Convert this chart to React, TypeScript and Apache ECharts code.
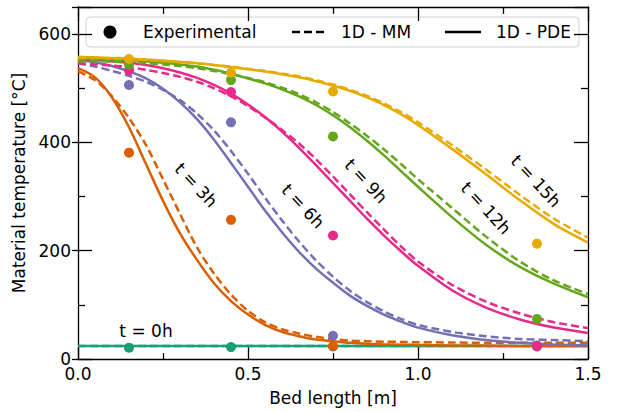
import React, { useEffect, useRef } from "react";
import * as echarts from "echarts";

// Bed length grid (m) on which the model curves are read
const xGrid = [0, 0.05, 0.1, 0.15, 0.2, 0.25, 0.3, 0.35, 0.4, 0.45, 0.5, 0.55, 0.6, 0.65, 0.7, 0.75, 0.8, 0.85, 0.9, 0.95, 1.0, 1.1, 1.2, 1.3, 1.4, 1.5];

// 1D - PDE (solid) curves, °C
const pde0h = [24, 24, 24, 24, 24, 24, 24, 24, 24, 24, 24, 24, 24, 24, 24, 24, 24, 24, 24, 24, 24, 24, 24, 24, 24, 24];
const pde3h = [537, 520, 483, 428, 360, 292, 232, 183, 140, 107, 82, 63, 50, 42, 36, 33, 30, 28, 27, 26.5, 26, 25, 25, 24, 24, 24];
const pde6h = [552, 548, 541, 531, 518, 499, 474, 443, 405, 362, 318, 274, 234, 198, 167, 141, 117, 98, 82, 69, 58, 44, 35, 30, 27, 25];
const pde9h = [553, 552, 550, 547, 543, 537, 529, 519, 506, 490, 470, 447, 420, 390, 358, 325, 292, 259, 228, 199, 172, 127, 95, 73, 58, 48];
const pde12h = [555, 554, 553, 552, 550, 547, 544, 540, 534, 527, 518, 509, 498, 485, 469, 450, 428, 403, 376, 347, 318, 262, 211, 170, 139, 114];
const pde15h = [558, 557, 556, 555, 553, 551, 549, 546, 543, 539, 535, 531, 526, 520, 513, 505, 495, 483, 469, 452, 432, 388, 341, 293, 249, 215];

// 1D - MM (dashed) curves, °C
const mm0h = [24, 24, 24, 24, 24, 24, 24, 24, 24, 24, 24, 24, 24, 24, 24, 24, 24, 24, 24, 24, 24, 24, 24, 24, 24, 24];
const mm3h = [531, 515, 485, 445, 395, 332, 268, 206, 158, 119, 89, 68, 55, 47, 41, 37, 34, 33, 32, 31.5, 31, 30.5, 30, 30, 30, 30];
const mm6h = [546, 540, 532, 523, 512, 497, 478, 453, 422, 384, 342, 298, 256, 217, 182, 152, 126, 105, 88, 74, 63, 50, 42, 37, 35, 33];
const mm9h = [546, 544, 542, 539, 534, 528, 521, 512, 500, 485, 467, 446, 423, 398, 369, 337, 304, 271, 239, 208, 180, 137, 106, 84, 68, 57];
const mm12h = [550, 550, 549, 548, 546, 544, 541, 537, 532, 526, 519, 511, 501, 489, 474, 456, 435, 412, 387, 360, 332, 279, 226, 180, 145, 120];
const mm15h = [556, 556, 555, 554, 552, 550, 548, 546, 543, 540, 536, 532, 527, 522, 515, 507, 497, 486, 472, 456, 437, 395, 350, 303, 259, 224];

// Experimental measurements
const expX = [0.15, 0.45, 0.75, 1.35];
const exp0h = [21, 22, 23, 23];
const exp3h = [381, 257, 24, 24];
const exp6h = [506, 437, 43, 25];
const exp9h = [533, 493, 228, 24];
const exp12h = [544, 515, 411, 74];
const exp15h = [554, 529, 494, 213];

const timeLabels = ["t = 0h", "t = 3h", "t = 6h", "t = 9h", "t = 12h", "t = 15h"];
const palette = ["#1b9e77", "#d95f02", "#7570b3", "#e7298a", "#66a61e", "#e6ab02"];
const legendLabels = ["Experimental", "1D - MM", "1D - PDE"];

const FONT = "DejaVu Sans";

export default function App() {
  const ref = useRef<HTMLDivElement>(null);

  useEffect(() => {
    const chart = echarts.init(ref.current as HTMLDivElement, null, { renderer: "svg" });
    const groups = [
      { pde: pde0h, mm: mm0h, exp: exp0h },
      { pde: pde3h, mm: mm3h, exp: exp3h },
      { pde: pde6h, mm: mm6h, exp: exp6h },
      { pde: pde9h, mm: mm9h, exp: exp9h },
      { pde: pde12h, mm: mm12h, exp: exp12h },
      { pde: pde15h, mm: mm15h, exp: exp15h },
    ];
    const series: any[] = [];
    groups.forEach((g, k) => {
      const color = palette[k];
      series.push({
        type: "line",
        data: xGrid.map((x, i) => [x, g.mm[i]]),
        smooth: 0.3,
        symbol: "none",
        silent: true,
        z: 2,
        lineStyle: { color, width: 2.5, type: [8, 4] },
      });
      series.push({
        type: "line",
        data: xGrid.map((x, i) => [x, g.pde[i]]),
        smooth: 0.3,
        symbol: "none",
        silent: true,
        z: 2,
        lineStyle: { color, width: 2.5, type: "solid" },
      });
    });
    groups.forEach((g, k) => {
      series.push({
        type: "scatter",
        data: expX.map((x, i) => [x, g.exp[i]]),
        symbol: "circle",
        symbolSize: 10,
        silent: true,
        z: 3,
        itemStyle: { color: palette[k], opacity: 1 },
      });
    });

    const axisLine = { show: true, onZero: false, lineStyle: { color: "#000", width: 1.3 } };
    const tickLine = { color: "#000", width: 1.3 };
    const labelStyle = { color: "#000", fontSize: 17, fontFamily: FONT };

    const option: any = {
      animation: false,
      backgroundColor: "#fff",
      textStyle: { fontFamily: FONT },
      grid: { left: 78, right: 29, top: 7, bottom: 53, containLabel: false },
      xAxis: [
        {
          type: "value",
          position: "bottom",
          min: 0,
          max: 1.5,
          interval: 0.5,
          axisLine,
          axisTick: { show: true, inside: true, length: 12, lineStyle: tickLine },
          minorTick: { show: true, splitNumber: 2, length: 6, lineStyle: tickLine },
          splitLine: { show: false },
          axisLabel: { ...labelStyle, margin: 6, formatter: (v: number) => v.toFixed(1) },
          name: "Bed length [m]",
          nameLocation: "middle",
          nameGap: 30,
          nameTextStyle: { ...labelStyle },
        },
        {
          type: "value",
          position: "top",
          min: 0,
          max: 1.5,
          interval: 0.5,
          axisLine,
          axisTick: { show: true, inside: true, length: 14, lineStyle: tickLine },
          minorTick: { show: true, splitNumber: 2, length: 7, lineStyle: tickLine },
          splitLine: { show: false },
          axisLabel: { show: false },
        },
      ],
      yAxis: [
        {
          type: "value",
          position: "left",
          min: 0,
          max: 650,
          interval: 200,
          axisLine,
          axisTick: { show: true, inside: true, length: 14, lineStyle: tickLine },
          minorTick: { show: true, splitNumber: 2, length: 7, lineStyle: tickLine },
          splitLine: { show: false },
          axisLabel: { ...labelStyle, margin: 7, showMaxLabel: false },
          name: "Material temperature [°C]",
          nameLocation: "middle",
          nameGap: 44,
          nameTextStyle: { ...labelStyle },
        },
        {
          type: "value",
          position: "right",
          min: 0,
          max: 650,
          interval: 200,
          axisLine,
          axisTick: { show: true, inside: true, length: 14, lineStyle: tickLine },
          minorTick: { show: true, splitNumber: 2, length: 7, lineStyle: tickLine },
          splitLine: { show: false },
          axisLabel: { show: false },
        },
        {
          type: "value",
          position: "left",
          min: 0,
          max: 650,
          interval: 200,
          axisLine: { show: false },
          axisTick: { show: true, inside: false, length: 6, lineStyle: tickLine },
          minorTick: { show: false },
          splitLine: { show: false },
          axisLabel: { show: false },
        },
      ],
      series,
      graphic: [
        {
          type: "group",
          z: 100,
          children: [
            {
              type: "rect",
              shape: { x: 86, y: 17, width: 493, height: 30, r: 4 },
              style: { fill: "rgba(255,255,255,0.8)", stroke: "#d0d0d0", lineWidth: 1 },
            },
            { type: "circle", shape: { cx: 110, cy: 32, r: 6.5 }, style: { fill: "#000" } },
            {
              type: "text",
              x: 143,
              y: 32,
              style: { text: legendLabels[0], fill: "#000", font: `17px "${FONT}"`, textVerticalAlign: "middle" },
            },
            {
              type: "line",
              shape: { x1: 292, y1: 32, x2: 327, y2: 32 },
              style: { stroke: "#000", lineWidth: 2.5, lineDash: [8, 4] },
            },
            {
              type: "text",
              x: 341,
              y: 32,
              style: { text: legendLabels[1], fill: "#000", font: `17px "${FONT}"`, textVerticalAlign: "middle" },
            },
            {
              type: "line",
              shape: { x1: 445, y1: 32, x2: 481, y2: 32 },
              style: { stroke: "#000", lineWidth: 2.5 },
            },
            {
              type: "text",
              x: 496,
              y: 32,
              style: { text: legendLabels[2], fill: "#000", font: `17px "${FONT}"`, textVerticalAlign: "middle" },
            },
          ],
        },
        {
          type: "text",
          x: 146,
          y: 331,
          z: 50,
          style: { text: timeLabels[0], fill: "#000", font: `17px "${FONT}"`, textAlign: "center", textVerticalAlign: "middle" },
        },
        ...[
          [196, 185],
          [303, 206],
          [366, 181],
          [486, 208],
          [536, 181],
        ].map((p, i) => ({
          type: "text",
          x: p[0],
          y: p[1],
          rotation: (-47 * Math.PI) / 180,
          z: 50,
          style: {
            text: timeLabels[i + 1],
            fill: "#000",
            font: `17px "${FONT}"`,
            textAlign: "center",
            textVerticalAlign: "middle",
          },
        })),
      ],
    };
    chart.setOption(option);
    return () => chart.dispose();
  }, []);

  return <div ref={ref} style={{ position: "fixed", left: 0, top: 0, width: 617, height: 412 }} />;
}
